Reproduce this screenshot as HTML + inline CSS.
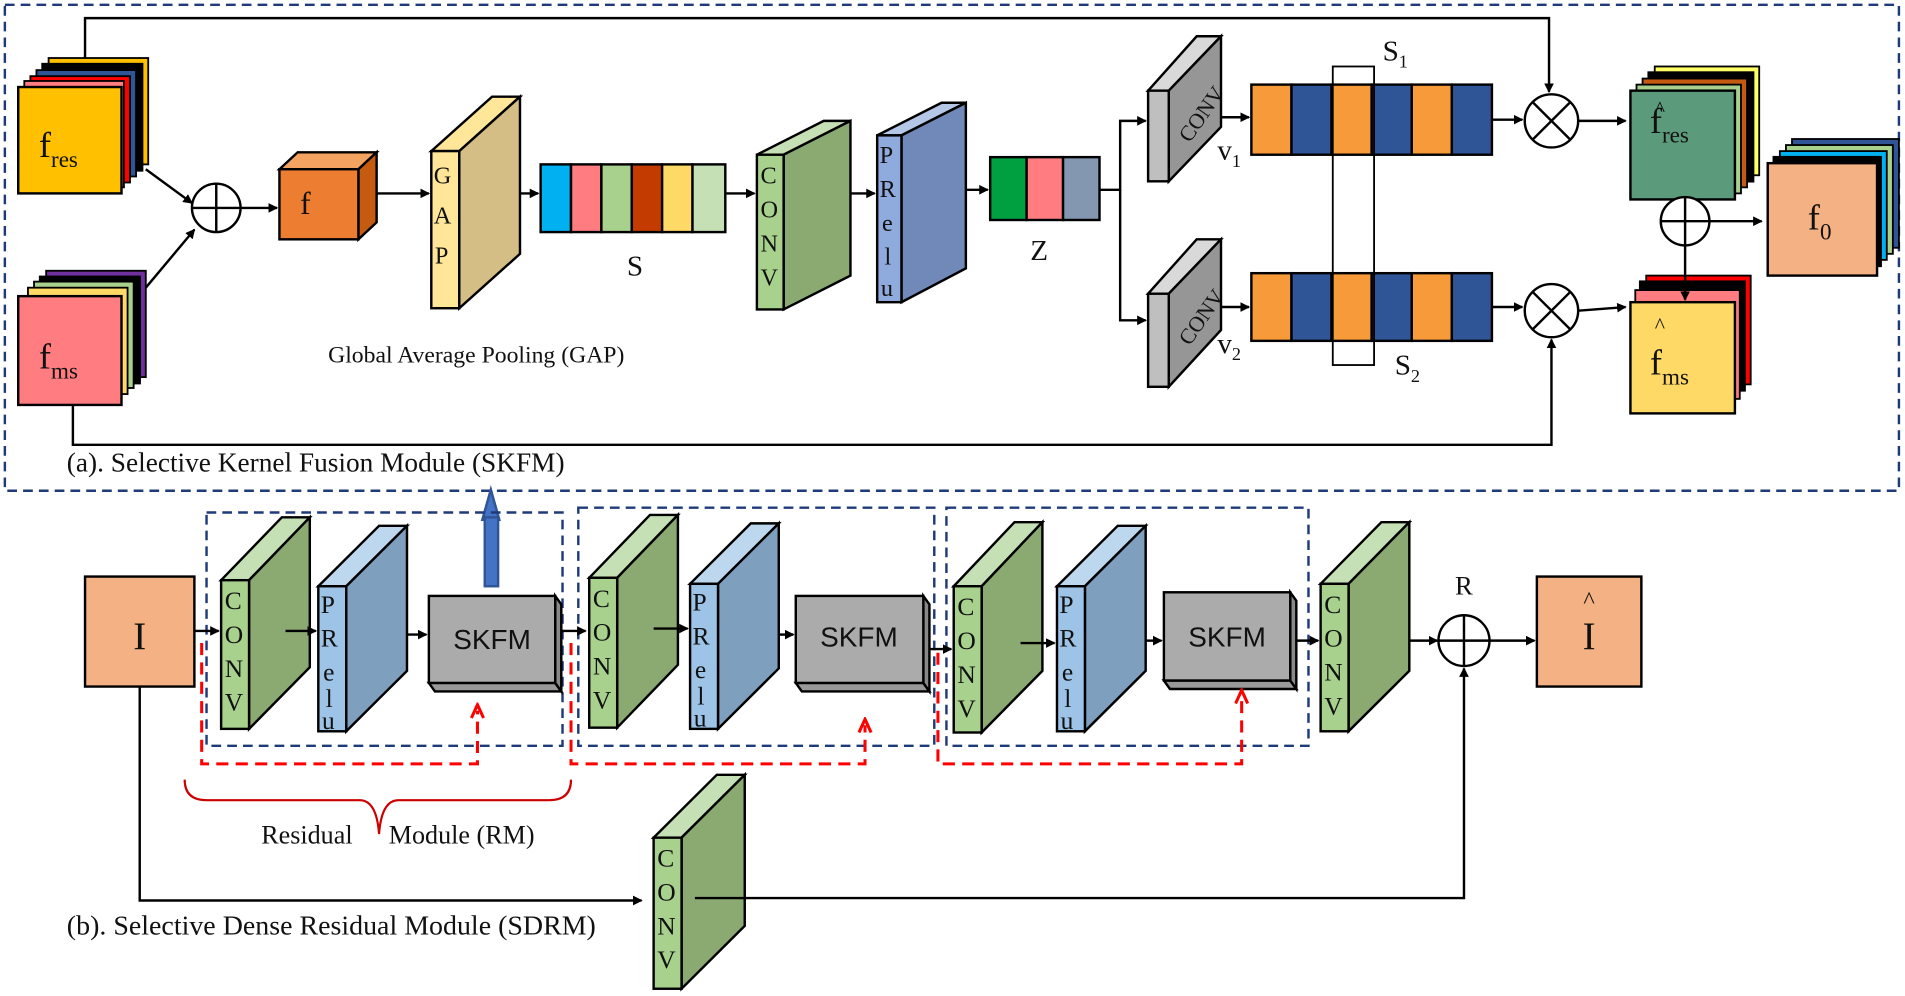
<!DOCTYPE html>
<html><head><meta charset="utf-8"><style>html,body{margin:0;padding:0;background:#fff}svg{display:block}text{font-family:"Liberation Serif",serif;fill:#111}</style></head>
<body>
<svg width="1905" height="996" viewBox="0 0 1568 824" preserveAspectRatio="none" xmlns="http://www.w3.org/2000/svg">
<defs>
<marker id="a" markerWidth="8" markerHeight="8" refX="7" refY="4" orient="auto" markerUnits="userSpaceOnUse"><path d="M0,0L8,4L0,8z" fill="#000"/></marker>
<marker id="r" markerWidth="14" markerHeight="12" refX="7" refY="6" orient="auto" markerUnits="userSpaceOnUse"><path d="M1,1L12,6L1,11" fill="none" stroke="#f00" stroke-width="2.5"/></marker>
</defs>
<g stroke="#000" stroke-width="2">
<rect x="4" y="4" width="1559" height="402" fill="none" stroke="#1f3a7a" stroke-dasharray="8,5"/>
<rect x="40" y="48" width="82" height="88" fill="#FFC000" stroke-width="1.5"/>
<rect x="35" y="53" width="82" height="88" fill="#000"/>
<rect x="30" y="58" width="82" height="88" fill="#2F5597" stroke-width="1.5"/>
<rect x="25" y="63" width="82" height="88" fill="#FF0000" stroke-width="1.5"/>
<rect x="20" y="67" width="82" height="88" fill="#FF7C80" stroke-width="1.5"/>
<rect x="15" y="72" width="85" height="88" fill="#FFC000"/>
<rect x="38" y="224" width="82" height="88" fill="#7030A0" stroke-width="1.5"/>
<rect x="33" y="229" width="82" height="88" fill="#000"/>
<rect x="28" y="233" width="82" height="88" fill="#A9D18E" stroke-width="1.5"/>
<rect x="23" y="238" width="82" height="88" fill="#FFD966" stroke-width="1.5"/>
<rect x="15" y="245" width="85" height="90" fill="#FF7C80"/>
</g>
<text x="32" y="130" font-size="30">f<tspan font-size="19" dy="8">res</tspan></text>
<text x="32" y="305" font-size="30">f<tspan font-size="19" dy="8">ms</tspan></text>
<g stroke="#000" stroke-width="2" fill="none">
<line x1="120" y1="140" x2="158" y2="168" marker-end="url(#a)"/>
<line x1="120" y1="238" x2="160" y2="190" marker-end="url(#a)"/>
<circle cx="178" cy="172" r="20" fill="#fff"/><line x1="158" y1="172" x2="198" y2="172"/><line x1="178" y1="152" x2="178" y2="192"/>
<line x1="198" y1="172" x2="228" y2="172" marker-end="url(#a)"/>
<polygon points="230,140 245,126 310,126 295,140" fill="#F4A460"/>
<polygon points="295,140 310,126 310,184 295,198" fill="#C55A11"/>
<rect x="230" y="140" width="65" height="58" fill="#ED7D31"/>
<line x1="310" y1="160" x2="353" y2="160" marker-end="url(#a)"/>
<polygon points="355,125 405,80 428,80 378,125" fill="#FFE699"/>
<polygon points="378,125 428,80 428,210 378,255" fill="#D4BE86"/>
<rect x="355" y="125" width="23" height="130" fill="#FFE699"/>
<line x1="428" y1="160" x2="443" y2="160" marker-end="url(#a)"/>
<rect x="445" y="136" width="25" height="56" fill="#00B0F0"/><rect x="470" y="136" width="25" height="56" fill="#FF7C80"/><rect x="495" y="136" width="25" height="56" fill="#A9D18E"/><rect x="520" y="136" width="25" height="56" fill="#C43B00"/><rect x="545" y="136" width="25" height="56" fill="#FFD966"/><rect x="570" y="136" width="27" height="56" fill="#C5E0B4"/>
<line x1="597" y1="160" x2="621" y2="160" marker-end="url(#a)"/>
<polygon points="623,128 678,100 700,100 645,128" fill="#C5E0B4"/>
<polygon points="645,128 700,100 700,228 645,256" fill="#8BAA72"/>
<rect x="623" y="128" width="22" height="128" fill="#A9D18E"/>
<line x1="700" y1="160" x2="720" y2="160" marker-end="url(#a)"/>
<polygon points="722,112 775,85 795,85 742,112" fill="#B4C7E7"/>
<polygon points="742,112 795,85 795,222 742,250" fill="#7189B8"/>
<rect x="722" y="112" width="20" height="138" fill="#8FAADC"/>
<line x1="795" y1="157" x2="813" y2="157" marker-end="url(#a)"/>
<rect x="815" y="130" width="30" height="52" fill="#00A040"/><rect x="845" y="130" width="30" height="52" fill="#FF7C80"/><rect x="875" y="130" width="30" height="52" fill="#8497B0"/>
<polyline points="905,157 922,157 922,100 943,100" marker-end="url(#a)"/>
<polyline points="922,157 922,265 943,265" marker-end="url(#a)"/>
<polygon points="945,75 985,30 1005,30 962,75" fill="#d9d9d9"/>
<polygon points="962,75 1005,30 1005,105 962,150" fill="#969696"/>
<rect x="945" y="75" width="17" height="75" fill="#BFBFBF"/>
<polygon points="945,243 985,198 1005,198 962,243" fill="#d9d9d9"/>
<polygon points="962,243 1005,198 1005,273 962,320" fill="#969696"/>
<rect x="945" y="243" width="17" height="77" fill="#BFBFBF"/>
<line x1="1005" y1="97" x2="1028" y2="97" marker-end="url(#a)"/>
<line x1="1005" y1="254" x2="1028" y2="254" marker-end="url(#a)"/>
<rect x="1030" y="70" width="33" height="58" fill="#F79B3A"/><rect x="1063" y="70" width="33" height="58" fill="#2F5597"/><rect x="1096" y="70" width="33" height="58" fill="#F79B3A"/><rect x="1129" y="70" width="33" height="58" fill="#2F5597"/><rect x="1162" y="70" width="33" height="58" fill="#F79B3A"/><rect x="1195" y="70" width="33" height="58" fill="#2F5597"/>
<rect x="1030" y="226" width="33" height="56" fill="#F79B3A"/><rect x="1063" y="226" width="33" height="56" fill="#2F5597"/><rect x="1096" y="226" width="33" height="56" fill="#F79B3A"/><rect x="1129" y="226" width="33" height="56" fill="#2F5597"/><rect x="1162" y="226" width="33" height="56" fill="#F79B3A"/><rect x="1195" y="226" width="33" height="56" fill="#2F5597"/>
<rect x="1097" y="55" width="34" height="247" stroke-width="1.5"/>
<line x1="1228" y1="99" x2="1253" y2="99" marker-end="url(#a)"/>
<line x1="1228" y1="254" x2="1253" y2="254" marker-end="url(#a)"/>
<circle cx="1277" cy="100" r="22" fill="#fff"/><line x1="1261" y1="84" x2="1293" y2="116"/><line x1="1293" y1="84" x2="1261" y2="116"/>
<circle cx="1277" cy="257" r="22" fill="#fff"/><line x1="1261" y1="241" x2="1293" y2="273"/><line x1="1293" y1="241" x2="1261" y2="273"/>
<line x1="1299" y1="100" x2="1338" y2="100" marker-end="url(#a)"/>
<line x1="1299" y1="257" x2="1338" y2="254" marker-end="url(#a)"/>
<polyline points="70,48 70,15 1275,15 1275,76" marker-end="url(#a)"/>
<polyline points="60,335 60,368 1277,368 1277,281" marker-end="url(#a)"/>
<rect x="1362" y="55" width="86" height="90" fill="#FFFF66" stroke-width="1.5"/>
<rect x="1357" y="60" width="86" height="90" fill="#000"/>
<rect x="1352" y="65" width="86" height="90" fill="#C55A11" stroke-width="1.5"/>
<rect x="1347" y="70" width="86" height="90" fill="#A9D18E" stroke-width="1.5"/>
<rect x="1342" y="75" width="86" height="90" fill="#5B9A7B"/>
<rect x="1355" y="228" width="86" height="90" fill="#FF0000" stroke-width="1.5"/>
<rect x="1350" y="233" width="86" height="90" fill="#000"/>
<rect x="1346" y="240" width="86" height="90" fill="#FF7C80" stroke-width="1.5"/>
<rect x="1342" y="250" width="86" height="92" fill="#FFD966"/>
<circle cx="1387" cy="183" r="20" fill="#fff"/><line x1="1367" y1="183" x2="1407" y2="183"/><line x1="1387" y1="163" x2="1387" y2="203"/>
<line x1="1387" y1="203" x2="1387" y2="248" marker-end="url(#a)"/>
<line x1="1407" y1="183" x2="1450" y2="183" marker-end="url(#a)"/>
<rect x="1475" y="115" width="88" height="90" fill="#2F5597" stroke-width="1.5"/>
<rect x="1470" y="120" width="88" height="90" fill="#A9D18E" stroke-width="1.5"/>
<rect x="1465" y="125" width="88" height="90" fill="#00B0F0" stroke-width="1.5"/>
<rect x="1460" y="130" width="88" height="90" fill="#000"/>
<rect x="1455" y="135" width="90" height="93" fill="#F4B183"/>
</g>
<text x="247" y="177" font-size="26">f</text>
<g font-size="20">
<text x="357" y="152">G</text><text x="357" y="185">A</text><text x="358" y="218">P</text>
<text x="626" y="152">C</text><text x="626" y="180">O</text><text x="626" y="208">N</text><text x="626" y="236">V</text>
<text x="724" y="135">P</text><text x="724" y="163">R</text><text x="726" y="191">e</text><text x="728" y="219">l</text><text x="725" y="245">u</text>
</g>
<text x="516" y="228" font-size="24">S</text>
<text x="848" y="215" font-size="24">Z</text>
<text x="958" y="112" font-size="18" transform="rotate(-55 975 95)">CONV</text>
<text x="958" y="280" font-size="18" transform="rotate(-55 975 263)">CONV</text>
<text x="1002" y="132" font-size="24">v<tspan font-size="15" dy="6">1</tspan></text>
<text x="1002" y="292" font-size="24">v<tspan font-size="15" dy="6">2</tspan></text>
<text x="1138" y="50" font-size="24">S<tspan font-size="15" dy="6">1</tspan></text>
<text x="1148" y="310" font-size="24">S<tspan font-size="15" dy="6">2</tspan></text>
<text x="1362" y="96" font-size="18">^</text>
<text x="1358" y="110" font-size="30">f<tspan font-size="19" dy="8">res</tspan></text>
<text x="1362" y="275" font-size="18">^</text>
<text x="1358" y="310" font-size="30">f<tspan font-size="19" dy="8">ms</tspan></text>
<text x="1488" y="190" font-size="30">f<tspan font-size="19" dy="8">0</tspan></text>
<text x="392" y="300" font-size="19.5" text-anchor="middle">Global Average Pooling (GAP)</text>
<text x="55" y="390" font-size="22.5">(a). Selective Kernel Fusion Module (SKFM)</text>

<g stroke="#000" stroke-width="2" fill="none">
<polygon points="397,430 404,405 411,430" fill="#4472C4" stroke="#2F5597"/>
<rect x="399" y="428" width="11" height="57" fill="#4472C4" stroke="#2F5597"/>
<rect x="170" y="424" width="293" height="193" stroke="#1f3a7a" stroke-dasharray="8,5"/>
<rect x="476" y="420" width="293" height="197" stroke="#1f3a7a" stroke-dasharray="8,5"/>
<rect x="779" y="420" width="298" height="197" stroke="#1f3a7a" stroke-dasharray="8,5"/>
<rect x="70" y="477" width="90" height="91" fill="#F4B183"/>
<line x1="160" y1="522" x2="180" y2="522" marker-end="url(#a)"/>
<polygon points="182,480 232,428 255,428 205,480" fill="#C5E0B4"/><polygon points="205,480 255,428 255,552 205,603" fill="#8BAA72"/><rect x="182" y="480" width="23" height="123" fill="#A9D18E"/>
<line x1="235" y1="522" x2="260" y2="522" marker-end="url(#a)"/>
<polygon points="262,485 312,435 335,435 285,485" fill="#BDD7EE"/><polygon points="285,485 335,435 335,555 285,605" fill="#7F9FBF"/><rect x="262" y="485" width="23" height="120" fill="#9DC3E6"/>
<line x1="335" y1="525" x2="351" y2="525" marker-end="url(#a)"/>
<polygon points="353,565 358,572 462,572 457,565" fill="#999"/><polygon points="457,493 462,500 462,572 457,565" fill="#888"/><rect x="353" y="493" width="104" height="72" fill="#ABABAB"/>
<line x1="462" y1="522" x2="482" y2="522" marker-end="url(#a)"/>
<polygon points="485,478 535,426 558,426 508,478" fill="#C5E0B4"/><polygon points="508,478 558,426 558,550 508,602" fill="#8BAA72"/><rect x="485" y="478" width="23" height="124" fill="#A9D18E"/>
<line x1="538" y1="520" x2="566" y2="520" marker-end="url(#a)"/>
<polygon points="568,483 618,433 641,433 591,483" fill="#BDD7EE"/><polygon points="591,483 641,433 641,553 591,603" fill="#7F9FBF"/><rect x="568" y="483" width="23" height="120" fill="#9DC3E6"/>
<line x1="641" y1="525" x2="653" y2="525" marker-end="url(#a)"/>
<polygon points="655,565 660,572 765,572 760,565" fill="#999"/><polygon points="760,493 765,500 765,572 760,565" fill="#888"/><rect x="655" y="493" width="105" height="72" fill="#ABABAB"/>
<line x1="765" y1="537" x2="783" y2="537" marker-end="url(#a)"/>
<polygon points="785,485 835,432 858,432 808,485" fill="#C5E0B4"/><polygon points="808,485 858,432 858,555 808,606" fill="#8BAA72"/><rect x="785" y="485" width="23" height="121" fill="#A9D18E"/>
<line x1="840" y1="532" x2="868" y2="532" marker-end="url(#a)"/>
<polygon points="870,485 920,435 943,435 893,485" fill="#BDD7EE"/><polygon points="893,485 943,435 943,555 893,605" fill="#7F9FBF"/><rect x="870" y="485" width="23" height="120" fill="#9DC3E6"/>
<line x1="943" y1="530" x2="956" y2="530" marker-end="url(#a)"/>
<polygon points="958,563 963,570 1067,570 1062,563" fill="#999"/><polygon points="1062,490 1067,497 1067,570 1062,563" fill="#888"/><rect x="958" y="490" width="104" height="73" fill="#ABABAB"/>
<line x1="1067" y1="530" x2="1085" y2="530" marker-end="url(#a)"/>
<polygon points="1087,483 1137,432 1160,432 1110,483" fill="#C5E0B4"/><polygon points="1110,483 1160,432 1160,555 1110,605" fill="#8BAA72"/><rect x="1087" y="483" width="23" height="122" fill="#A9D18E"/>
<line x1="1160" y1="530" x2="1183" y2="530" marker-end="url(#a)"/>
<circle cx="1205" cy="530" r="21" fill="#fff"/><line x1="1184" y1="530" x2="1226" y2="530"/><line x1="1205" y1="509" x2="1205" y2="551"/>
<line x1="1226" y1="530" x2="1263" y2="530" marker-end="url(#a)"/>
<rect x="1265" y="477" width="86" height="91" fill="#F4B183"/>
<polyline points="115,568 115,745 528,745" marker-end="url(#a)"/>
<polygon points="538,693 590,641 613,641 561,693" fill="#C5E0B4"/><polygon points="561,693 613,641 613,766 561,818" fill="#8BAA72"/><rect x="538" y="693" width="23" height="125" fill="#A9D18E"/>
<polyline points="572,743 1205,743 1205,553" marker-end="url(#a)"/>
<g stroke="#f00" stroke-width="2.5" stroke-dasharray="10,6">
<polyline points="166,532 166,632 393,632 393,588" marker-end="url(#r)"/>
<polyline points="470,532 470,632 712,632 712,600" marker-end="url(#r)"/>
<polyline points="772,540 772,632 1022,632 1022,576" marker-end="url(#r)"/>
</g>
<path d="M152,645 Q152,662 170,662 L296,662 Q310,662 312,690 Q314,662 328,662 L452,662 Q470,662 470,645" stroke="#c00" stroke-width="1.8"/>
</g>
<text x="115" y="537" font-size="32" text-anchor="middle">I</text>
<text x="1308" y="503" font-size="20" text-anchor="middle">^</text>
<text x="1308" y="537" font-size="32" text-anchor="middle">I</text>
<text x="1205" y="492" font-size="22" text-anchor="middle">R</text>
<g font-size="21">
<text x="185" y="504">C</text><text x="185" y="532">O</text><text x="185" y="560">N</text><text x="185" y="588">V</text>
<text x="488" y="502">C</text><text x="488" y="530">O</text><text x="488" y="558">N</text><text x="488" y="586">V</text>
<text x="788" y="509">C</text><text x="788" y="537">O</text><text x="788" y="565">N</text><text x="788" y="593">V</text>
<text x="1090" y="507">C</text><text x="1090" y="535">O</text><text x="1090" y="563">N</text><text x="1090" y="591">V</text>
<text x="541" y="717">C</text><text x="541" y="745">O</text><text x="541" y="773">N</text><text x="541" y="801">V</text>
<text x="264" y="507">P</text><text x="264" y="535">R</text><text x="266" y="563">e</text><text x="268" y="585">l</text><text x="265" y="603">u</text>
<text x="570" y="505">P</text><text x="570" y="533">R</text><text x="572" y="561">e</text><text x="574" y="583">l</text><text x="571" y="601">u</text>
<text x="872" y="507">P</text><text x="872" y="535">R</text><text x="874" y="563">e</text><text x="876" y="585">l</text><text x="873" y="603">u</text>
</g>
<text x="405" y="537" text-anchor="middle" font-size="23" style="font-family:'Liberation Sans',sans-serif">SKFM</text>
<text x="707" y="535" text-anchor="middle" font-size="23" style="font-family:'Liberation Sans',sans-serif">SKFM</text>
<text x="1010" y="535" text-anchor="middle" font-size="23" style="font-family:'Liberation Sans',sans-serif">SKFM</text>
<text x="215" y="698" font-size="21.5">Residual</text>
<text x="320" y="698" font-size="21.5">Module (RM)</text>
<text x="55" y="773" font-size="23">(b). Selective Dense Residual Module (SDRM)</text>
</svg>
</body></html>
